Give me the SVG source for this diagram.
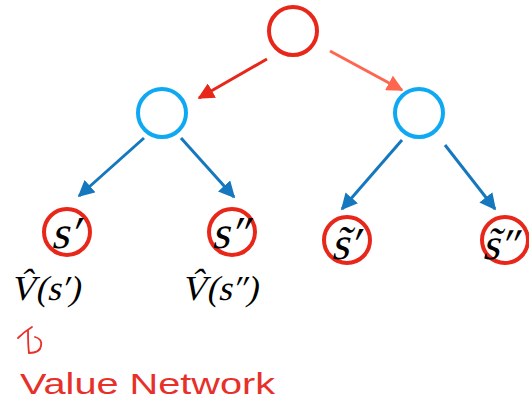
<svg xmlns="http://www.w3.org/2000/svg" width="529" height="410" viewBox="0 0 529 410">
  <defs>
    <style>
      .state { fill: none; stroke: #e8271b; stroke-width: 4; }
      .chance { fill: none; stroke: #0ea9f2; stroke-width: 4; }
      .edge-blue { stroke: #1577bd; stroke-width: 3; fill: none; }
      /* upright serif face slanted by a skew transform */
      .math { font-family: "Liberation Serif", "Times New Roman", serif; font-style: normal; fill: #000; }
      .hand { font-family: "Liberation Sans", Arial, sans-serif; fill: #e8302a; }
    </style>
    <marker id="ah-red" viewBox="0 0 10 10" refX="9" refY="5" markerWidth="5.5" markerHeight="5.5" orient="auto" markerUnits="strokeWidth">
      <path d="M0,0 L10,5 L0,10 Z" fill="#e8271b"/>
    </marker>
    <marker id="ah-salmon" viewBox="0 0 10 10" refX="9" refY="5" markerWidth="5.5" markerHeight="5.5" orient="auto" markerUnits="strokeWidth">
      <path d="M0,0 L10,5 L0,10 Z" fill="#ff6650"/>
    </marker>
    <marker id="ah-blue" viewBox="0 0 10 10" refX="9" refY="5" markerWidth="5.5" markerHeight="5.5" orient="auto" markerUnits="strokeWidth">
      <path d="M0,0 L10,5 L0,10 Z" fill="#1577bd"/>
    </marker>
  </defs>

  <!-- connectors -->
  <g id="connectors">
    <line x1="267" y1="59" x2="199" y2="98" stroke="#e8271b" stroke-width="3" marker-end="url(#ah-red)"/>
    <line x1="330" y1="51" x2="402" y2="90" stroke="#ff6650" stroke-width="3" marker-end="url(#ah-salmon)"/>
    <line class="edge-blue" x1="144" y1="138" x2="79" y2="196" marker-end="url(#ah-blue)"/>
    <line class="edge-blue" x1="181" y1="138" x2="234" y2="197" marker-end="url(#ah-blue)"/>
    <line class="edge-blue" x1="402" y1="140" x2="342" y2="209" marker-end="url(#ah-blue)"/>
    <line class="edge-blue" x1="445" y1="145" x2="495" y2="209" marker-end="url(#ah-blue)"/>
  </g>

  <!-- root -->
  <g id="root">
    <circle class="state" cx="293" cy="31" r="24"/>
  </g>

  <!-- chance nodes -->
  <g id="chance-left">
    <circle class="chance" cx="162" cy="113" r="24"/>
  </g>
  <g id="chance-right">
    <circle class="chance" cx="419" cy="113" r="24"/>
  </g>

  <!-- leaf states -->
  <g id="leaf-s1">
    <circle class="state" cx="67" cy="232" r="23"/>
    <text class="math" transform="translate(65,248) skewX(-13)" font-size="46" text-anchor="middle">s′</text>
  </g>
  <g id="leaf-s2">
    <circle class="state" cx="232" cy="232" r="23"/>
    <text class="math" transform="translate(230,248) skewX(-13)" font-size="46" text-anchor="middle">s″</text>
  </g>
  <g id="leaf-t1">
    <circle class="state" cx="347" cy="240" r="23"/>
    <text class="math" transform="translate(345,259) skewX(-13)" font-size="46" text-anchor="middle">s̃′</text>
  </g>
  <g id="leaf-t2">
    <circle class="state" cx="505" cy="240" r="23"/>
    <text class="math" transform="translate(500,259) skewX(-13)" font-size="44" text-anchor="middle">s̃″</text>
  </g>

  <!-- value estimates -->
  <g id="value-s1">
    <text class="math" transform="translate(10,300) skewX(-13)" font-size="35">V̂(s′)</text>
  </g>
  <g id="value-s2">
    <text class="math" transform="translate(181,300) skewX(-13)" font-size="35">V̂(s″)</text>
  </g>

  <!-- handwritten note -->
  <g id="note">
    <path d="M18,338 C22,334 27,330 32,327 M28,330 C28,338 28,346 29,353 C33,353 40,352 41,346 C42,341 39,338 35,337" fill="none" stroke="#e8302a" stroke-width="1.8" stroke-linecap="round"/>
    <text class="hand" x="20" y="394" font-size="30" textLength="255" lengthAdjust="spacingAndGlyphs">Value Network</text>
  </g>
</svg>
